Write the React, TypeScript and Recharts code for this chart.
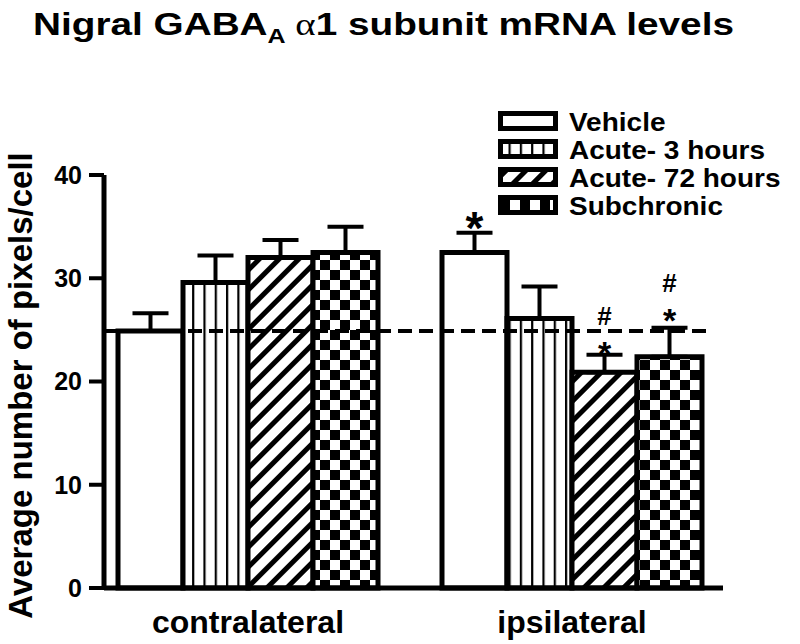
import React from 'react';
import { BarChart, Bar, XAxis, YAxis, ErrorBar, LabelList, ReferenceLine } from 'recharts';

const categories = ['contralateral', 'ipsilateral'];
const seriesNames = ['Vehicle', 'Acute- 3 hours', 'Acute- 72 hours', 'Subchronic'];

const vehicle = [24.9, 32.5];
const vehicleErr = [1.7, 1.9];
const acute3 = [29.6, 26.1];
const acute3Err = [2.6, 3.1];
const acute72 = [32.0, 20.9];
const acute72Err = [1.7, 1.7];
const subchronic = [32.5, 22.4];
const subchronicErr = [2.5, 2.8];

const vehicleStars = [false, true];
const acute3Stars = [false, false];
const acute72Stars = [false, true];
const subchronicStars = [false, true];
const vehicleHash = [false, false];
const acute3Hash = [false, false];
const acute72Hash = [false, true];
const subchronicHash = [false, true];

const yTicks = [0, 10, 20, 30, 40];
const baselineValue = vehicle[0];

const data = categories.map((c, i) => ({
  category: c,
  vehicle: vehicle[i],
  vehicleErr: [0, vehicleErr[i]],
  acute3: acute3[i],
  acute3Err: [0, acute3Err[i]],
  acute72: acute72[i],
  acute72Err: [0, acute72Err[i]],
  subchronic: subchronic[i],
  subchronicErr: [0, subchronicErr[i]],
}));

const FONT = '"Liberation Sans", Arial, Helvetica, sans-serif';
const fills = ['#ffffff', 'url(#pVert)', 'url(#pDiag)', 'url(#pCheck)'];

const makeMarks = (errs: number[], stars: boolean[], hashes: boolean[], starSize: number, starGap: number) =>
  (props: any) => {
    const vb = props.viewBox || {};
    const x = props.x ?? vb.x;
    const y = props.y ?? vb.y;
    const width = props.width ?? vb.width;
    const height = props.height ?? vb.height;
    const index = props.index;
    if (index == null) return null;
    const v = Number(props.value ?? 0);
    if (!v || !height) return null;
    const pxPerUnit = height / v;
    const capY = y - errs[index] * pxPerUnit;
    const cx = x + width / 2;
    const starC = capY - starGap;
    const hashC = starC - 30;
    return (
      <g>
        {stars[index] && (
          <text x={cx} y={starC + 0.57 * starSize} textAnchor="middle" fontFamily={FONT} fontWeight="bold" fontSize={starSize} fill="#000">*</text>
        )}
        {hashes[index] && (
          <text x={cx} y={hashC + 0.35 * 26} textAnchor="middle" fontFamily={FONT} fontWeight="bold" fontSize={26} fill="#000">#</text>
        )}
      </g>
    );
  };

const XTick = (props: any) => (
  <text x={props.x} y={props.y} dy={45} textAnchor="middle" fontFamily={FONT} fontWeight="bold" fontSize={32} fill="#000">
    {props.payload.value}
  </text>
);

const DashedLine = (p: any) => {
  const a = Math.min(p.x1, p.x2);
  const b = Math.max(p.x1, p.x2);
  return <line x1={a} y1={p.y1} x2={b - 16} y2={p.y2} stroke="#000" strokeWidth={4} strokeDasharray="14 7" />;
};

export default function App() {
  return (
    <div style={{ position: 'absolute', left: 0, top: 0, width: 800, height: 644, background: '#fff' }}>
      <svg width={0} height={0} style={{ position: 'absolute' }}>
        <defs>
          <pattern id="pVert" patternUnits="userSpaceOnUse" width={11.3} height={10}>
            <rect width={11.3} height={10} fill="#fff" />
            <rect x={0} width={2.2} height={10} fill="#000" />
          </pattern>
          <pattern id="pDiag" patternUnits="userSpaceOnUse" width={14} height={14} patternTransform="rotate(45)">
            <rect width={14} height={14} fill="#fff" />
            <rect width={5} height={14} fill="#000" />
          </pattern>
          <pattern id="pCheck" patternUnits="userSpaceOnUse" width={20} height={20}>
            <rect width={20} height={20} fill="#fff" />
            <rect width={10} height={10} fill="#000" />
            <rect x={10} y={10} width={10} height={10} fill="#000" />
          </pattern>
        </defs>
      </svg>
      <BarChart
        width={800}
        height={644}
        data={data}
        margin={{ top: 175, right: 77, bottom: 26, left: 0 }}
        barGap={0}
        barCategoryGap={32}
      >
        <XAxis
          dataKey="category"
          height={30}
          padding={{ left: -18, right: -11 }}
          axisLine={{ stroke: '#000', strokeWidth: 5 }}
          tickLine={false}
          tickSize={0}
          tickMargin={0}
          interval={0}
          tick={<XTick />}
        />
        <YAxis
          width={104}
          domain={[0, 40]}
          ticks={yTicks}
          axisLine={{ stroke: '#000', strokeWidth: 5 }}
          tickLine={{ stroke: '#000', strokeWidth: 4 }}
          tickSize={15}
          tickMargin={7}
          tick={{ fill: '#000', fontFamily: FONT, fontWeight: 'bold', fontSize: 25 }}
        />
        <Bar dataKey="vehicle" name={seriesNames[0]} fill={fills[0]} stroke="#000" strokeWidth={5} isAnimationActive={false}>
          <ErrorBar dataKey="vehicleErr" width={18} strokeWidth={4} stroke="#000" direction="y" />
          <LabelList dataKey="vehicle" content={makeMarks(vehicleErr, vehicleStars, vehicleHash, 46, 15)} />
        </Bar>
        <Bar dataKey="acute3" name={seriesNames[1]} fill={fills[1]} stroke="#000" strokeWidth={5} isAnimationActive={false}>
          <ErrorBar dataKey="acute3Err" width={18} strokeWidth={4} stroke="#000" direction="y" />
          <LabelList dataKey="acute3" content={makeMarks(acute3Err, acute3Stars, acute3Hash, 34, 10)} />
        </Bar>
        <Bar dataKey="acute72" name={seriesNames[2]} fill={fills[2]} stroke="#000" strokeWidth={5} isAnimationActive={false}>
          <ErrorBar dataKey="acute72Err" width={18} strokeWidth={4} stroke="#000" direction="y" />
          <LabelList dataKey="acute72" content={makeMarks(acute72Err, acute72Stars, acute72Hash, 34, 9)} />
        </Bar>
        <Bar dataKey="subchronic" name={seriesNames[3]} fill={fills[3]} stroke="#000" strokeWidth={5} isAnimationActive={false}>
          <ErrorBar dataKey="subchronicErr" width={18} strokeWidth={4} stroke="#000" direction="y" />
          <LabelList dataKey="subchronic" content={makeMarks(subchronicErr, subchronicStars, subchronicHash, 34, 15)} />
        </Bar>
        <ReferenceLine y={baselineValue} shape={DashedLine} ifOverflow="visible" />
      </BarChart>
      <svg width={800} height={644} style={{ position: 'absolute', left: 0, top: 0, pointerEvents: 'none' }}>
        <text transform="translate(33,35) scale(1.25,1)" fontFamily={FONT} fontWeight="bold" fontSize={31} fill="#000">
          Nigral GABA
          <tspan fontSize={20} dy={8}>A</tspan>
          <tspan dy={-8} fontFamily='"Liberation Serif", "Times New Roman", serif' fontWeight="normal"> α</tspan>
          <tspan>1 subunit mRNA levels</tspan>
        </text>
        <text transform="translate(32,385.5) rotate(-90)" textAnchor="middle" fontFamily={FONT} fontWeight="bold" fontSize={33} fill="#000">
          Average number of pixels/cell
        </text>
        {seriesNames.map((name, i) => {
          const top = 111 + i * 28;
          return (
            <g key={name}>
              <rect x={500.5} y={top + 2.5} width={55} height={15} fill={fills[i]} stroke="#000" strokeWidth={5} />
              <text transform={`translate(569,${top + 20}) scale(1.12,1)`} fontFamily={FONT} fontWeight="bold" fontSize={25} fill="#000">{name}</text>
            </g>
          );
        })}
      </svg>
    </div>
  );
}
